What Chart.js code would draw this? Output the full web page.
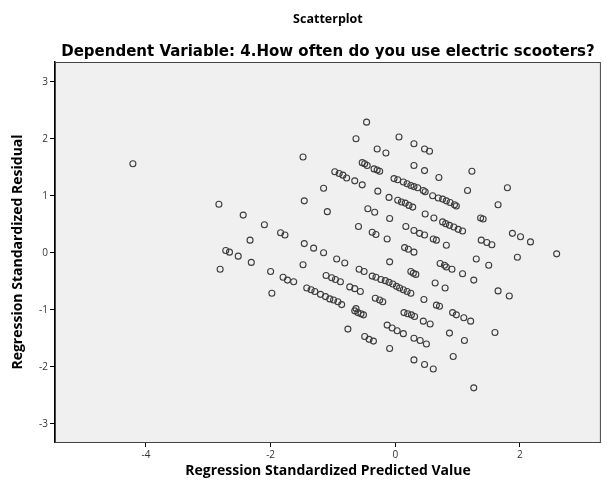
<!DOCTYPE html>
<html>
<head>
<meta charset="utf-8">
<script src="https://cdn.jsdelivr.net/npm/chart.js@4.4.0/dist/chart.umd.min.js"></script>
<style>
  html, body { margin: 0; padding: 0; background: #fff; }
  #wrap { width: 605px; height: 486px; }
</style>
</head>
<body>
<div id="wrap"><canvas id="myChart" width="605" height="486"></canvas></div>
<script>
// values
var predicted = [
  -4.21, -2.83, -2.44, -2.10, -1.84, -1.77, -2.33, -2.72, -2.66, -2.52, -2.31, -2.81, -2.00, -1.80, -1.73, -1.98,
  -0.46, -0.63, -1.48, -0.29, -0.15, -0.53, -0.49, -0.45, -0.34, -0.29, -0.25,
  -0.97, -0.90, -0.84, -0.78, -0.65, -0.53, -1.15, -1.46, -0.28,
  0.06, 0.30, 0.47, 0.55, 0.30, 0.47, 0.70, 1.23, 1.16,
  -0.02, 0.04, 0.13, 0.19, 0.25, 0.30, 0.36, 0.45, 0.48,
  0.60, 0.69, 0.76, 0.82, 0.88, 0.95, 0.98, -0.10,
  0.04, 0.10, 0.16, 0.22, 0.28,
  1.80, 1.65, 1.37, 1.41, 1.88, 2.01, 2.17, 1.38, 1.47, 1.55, 2.59, 1.96, 1.50, 1.30,
  -1.09, -0.44, -0.33, -0.59, -0.37, -0.31,
  -1.46, -1.31, -1.15, -0.94, -0.81, -1.48, -0.58, -0.50, -0.37, -0.31, -1.63,
  -1.11, -1.02, -0.96, -0.88, -0.73, -0.65, -0.56,
  -1.42, -1.35, -1.29, -1.20, -1.12, -1.05, -0.99, -0.92, -0.86, -0.32, -0.63,
  -0.09, 0.48, 0.62, 0.76, 0.81, 0.87, 0.94, 1.01, 1.08,
  0.17, 0.30, 0.39, 0.47, 0.61, 0.66, 0.82, -0.13, 0.15, 0.21, 0.30,
  -0.09, 0.72, 0.79, 0.82, 0.91, 1.08, 1.26, 0.25, 0.29, 0.33, 0.64, 0.80,
  -0.23, -0.16, -0.10, -0.04, 0.02, 0.07, 0.13, 0.19, 0.25,
  0.46, 0.66, 0.71, -0.25, -0.20,
  -0.65, -0.60, -0.55, -0.51, -0.76, -0.49, -0.42, -0.35,
  0.14, 0.20, 0.26, 0.31, 0.45, 0.56, 0.92, 0.98, 1.10, 1.21,
  -0.13, -0.05, 0.03, 0.13, 0.87, 0.30, 0.40, 0.50, 1.11, -0.09, 0.93,
  0.30, 0.47, 0.61, 1.26,
  1.65, 1.83, 1.60
];
var residual = [
  1.56, 0.85, 0.66, 0.49, 0.35, 0.31, 0.22, 0.04, 0.01, -0.06, -0.17, -0.29, -0.33, -0.43, -0.48, -0.71,
  2.29, 2.00, 1.68, 1.82, 1.75, 1.58, 1.56, 1.53, 1.47, 1.45, 1.43,
  1.42, 1.39, 1.36, 1.31, 1.26, 1.19, 1.13, 0.91, 1.08,
  2.03, 1.91, 1.82, 1.78, 1.53, 1.44, 1.32, 1.43, 1.09,
  1.30, 1.28, 1.24, 1.21, 1.18, 1.16, 1.14, 1.09, 1.07,
  1.00, 0.96, 0.94, 0.91, 0.88, 0.84, 0.82, 0.97,
  0.92, 0.89, 0.87, 0.83, 0.80,
  1.14, 0.84, 0.61, 0.59, 0.34, 0.28, 0.19, 0.22, 0.18, 0.14, -0.02, -0.08, -0.22, -0.11,
  0.72, 0.77, 0.71, 0.46, 0.36, 0.32,
  0.16, 0.08, 0.00, -0.11, -0.18, -0.21, -0.29, -0.33, -0.41, -0.43, -0.51,
  -0.40, -0.44, -0.47, -0.51, -0.60, -0.63, -0.68,
  -0.62, -0.65, -0.68, -0.73, -0.77, -0.81, -0.83, -0.86, -0.91, -0.80, -0.98,
  0.60, 0.68, 0.61, 0.54, 0.51, 0.48, 0.45, 0.41, 0.38,
  0.46, 0.39, 0.34, 0.31, 0.24, 0.22, 0.13, 0.24, 0.09, 0.06, 0.01,
  -0.16, -0.19, -0.22, -0.25, -0.29, -0.37, -0.48, -0.33, -0.36, -0.38, -0.53, -0.62,
  -0.47, -0.49, -0.52, -0.55, -0.59, -0.62, -0.65, -0.68, -0.71,
  -0.82, -0.92, -0.94, -0.83, -0.86,
  -1.02, -1.05, -1.07, -1.09, -1.34, -1.47, -1.52, -1.55,
  -1.05, -1.07, -1.09, -1.12, -1.20, -1.25, -1.05, -1.09, -1.14, -1.20,
  -1.27, -1.32, -1.37, -1.42, -1.41, -1.50, -1.54, -1.60, -1.54, -1.68, -1.82,
  -1.88, -1.96, -2.04, -2.37,
  -0.67, -0.76, -1.40
];
var xTicks = [-4, -2, 0, 2];
var yTicks = [-3, -2, -1, 0, 1, 2, 3];

var points = predicted.map(function(x, i){
    return {x: x, y: residual[i]};
});

// grey plot background and the thin frame round it
var frame = {
    id: 'frame',
    beforeDatasetsDraw: function(chart){
        var a = chart.chartArea, ctx = chart.ctx;
        ctx.save();
        ctx.fillStyle = '#f0f0f0';
        ctx.fillRect(a.left, a.top, a.right - a.left, a.bottom - a.top);
        ctx.strokeStyle = '#444';
        ctx.lineWidth = 1;
        ctx.strokeRect(a.left + 0.5, a.top + 0.5, a.right - a.left - 1, a.bottom - a.top);
        ctx.restore();
    }
};

var font = '"Open Sans", "DejaVu Sans", sans-serif';
var wide = '"DejaVu Sans", sans-serif';

new Chart('myChart', {
    type: 'scatter',
    data: {
        datasets: [{
            data: points,
            pointStyle: 'circle',
            pointRadius: 3,
            pointHoverRadius: 3,
            backgroundColor: 'rgba(0,0,0,0)',
            borderColor: '#3c3c3c',
            borderWidth: 1.1
        }]
    },
    options: {
        responsive: false,
        animation: false,
        events: [],
        layout: { padding: { top: 0, right: 2, bottom: 0, left: 0 } },
        plugins: {
            legend: { display: false },
            tooltip: { enabled: false },
            title: {
                display: true,
                text: 'Scatterplot',
                fullSize: false,
                color: '#000',
                font: { family: font, size: 12.5, weight: 'bold' },
                padding: { top: 12, bottom: 0 }
            },
            subtitle: {
                display: true,
                text: 'Dependent Variable: 4.How often do you use electric scooters?',
                fullSize: false,
                color: '#000',
                font: { family: wide, size: 15, weight: 'bold' },
                padding: { top: 16, bottom: 1 }
            }
        },
        scales: {
            x: {
                type: 'linear',
                min: -5.46,
                max: 3.30,
                afterBuildTicks: function(scale){
                    scale.ticks = xTicks.map(function(v){ return {value: v}; });
                },
                afterFit: function(scale){ scale.height = 44; },
                grid: { drawOnChartArea: false, drawTicks: true, tickLength: 5, color: '#000' },
                border: { display: true, color: '#000', width: 1.5 },
                ticks: { color: '#333', font: { family: font, size: 10 }, padding: 2, maxRotation: 0 },
                title: {
                    display: true,
                    text: 'Regression Standardized Predicted Value',
                    color: '#000',
                    font: { family: font, size: 14, weight: 'bold' },
                    padding: { top: 4, bottom: 7 }
                }
            },
            y: {
                type: 'linear',
                min: -3.32,
                max: 3.345,
                afterBuildTicks: function(scale){
                    scale.ticks = yTicks.map(function(v){ return {value: v}; });
                },
                afterFit: function(scale){ scale.width = 55; },
                grid: { drawOnChartArea: false, drawTicks: true, tickLength: 5, color: '#000' },
                border: { display: true, color: '#000', width: 1.5 },
                ticks: { color: '#333', font: { family: font, size: 10 }, padding: 2 },
                title: {
                    display: true,
                    text: 'Regression Standardized Residual',
                    color: '#000',
                    font: { family: font, size: 14, weight: 'bold' },
                    padding: { top: 10, bottom: 0 }
                }
            }
        }
    },
    plugins: [frame]
});
</script>
</body>
</html>
